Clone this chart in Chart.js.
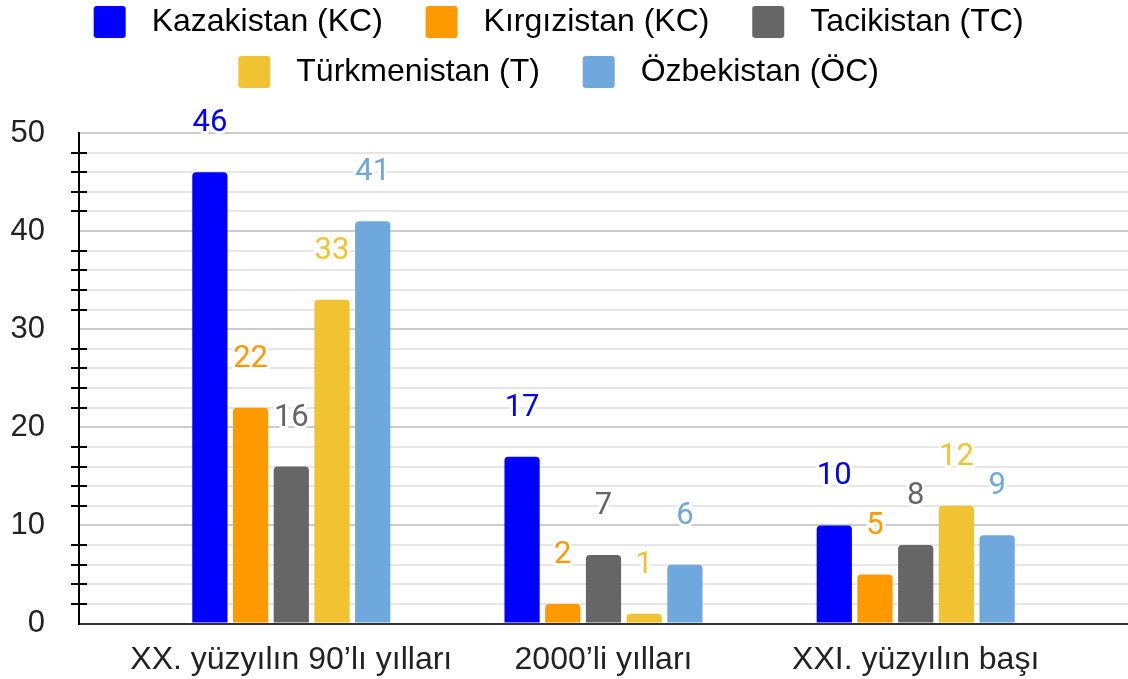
<!DOCTYPE html>
<html>
<head>
<meta charset="utf-8">
<script src="https://cdn.jsdelivr.net/npm/chart.js@4.4.1/dist/chart.umd.min.js"></script>
<style>
  body { margin: 0; background: #fff; }
</style>
</head>
<body>
<canvas id="chart" width="1128" height="679"></canvas>
<script>
// categories and series
var periods = ['XX. yüzyılın 90’lı yılları', '2000’li yılları', 'XXI. yüzyılın başı'];
var countries = ['Kazakistan (KC)', 'Kırgızistan (KC)', 'Tacikistan (TC)', 'Türkmenistan (T)', 'Özbekistan (ÖC)'];
var colors = ['#0000ff', '#ff9900', '#666666', '#f1c232', '#6fa8dc'];

var kazakistan = [46, 17, 10];
var kirgizistan = [22, 2, 5];
var tacikistan = [16, 7, 8];
var turkmenistan = [33, 1, 12];
var ozbekistan = [41, 6, 9];

var yLabels = [0, 10, 20, 30, 40, 50];

var series = [kazakistan, kirgizistan, tacikistan, turkmenistan, ozbekistan];

Chart.defaults.font.family = '"Liberation Sans", Arial, sans-serif';
Chart.defaults.color = '#222';

// legend swatch: square with a bit of room on the left
function swatch(color) {
    var c = document.createElement('canvas');
    c.width = 49;
    c.height = 32;
    var g = c.getContext('2d');
    g.fillStyle = color;
    g.beginPath();
    g.roundRect(7, 0, 32, 32, 3);
    g.fill();
    return c;
}

// numbers above the bars
var valueLabels = {
    id: 'valueLabels',
    afterDatasetsDraw: function(chart) {
        var ctx = chart.ctx;
        ctx.save();
        ctx.font = '31px Roboto';
        ctx.textAlign = 'center';
        ctx.textBaseline = 'alphabetic';
        ctx.lineJoin = 'round';
        ctx.lineWidth = 6;
        ctx.strokeStyle = '#fff';
        chart.data.datasets.forEach(function(ds, i) {
            chart.getDatasetMeta(i).data.forEach(function(bar, j) {
                var text = String(ds.data[j].y);
                ctx.strokeText(text, bar.x, bar.y - 41);
                ctx.fillStyle = ds.backgroundColor;
                ctx.fillText(text, bar.x, bar.y - 41);
            });
        });
        ctx.restore();
    }
};

// small tick marks crossing the y axis between the labelled values
var minorTicks = {
    id: 'minorTicks',
    afterDraw: function(chart) {
        var y = chart.scales.y;
        var ctx = chart.ctx;
        var x0 = chart.chartArea.left;
        ctx.save();
        ctx.strokeStyle = '#000';
        ctx.lineWidth = 2;
        y.ticks.forEach(function(t) {
            if (t.value % 10 === 0) return;
            var py = Math.round(y.getPixelForValue(t.value));
            ctx.beginPath();
            ctx.moveTo(x0 - 8, py);
            ctx.lineTo(x0 + 8, py);
            ctx.stroke();
        });
        ctx.restore();
    }
};

// extra space under the legend
var legendSpace = {
    id: 'legendSpace',
    beforeInit: function(chart) {
        var fit = chart.legend.fit;
        chart.legend.fit = function() {
            fit.call(this);
            this.height += 35;
        };
    }
};

var datasets = series.map(function(vals, i) {
    return {
        label: countries[i],
        data: vals.map(function(v, j) { return {x: j, y: v}; }),
        backgroundColor: colors[i],
        borderRadius: 4,
        categoryPercentage: 0.652,
        barPercentage: 0.865
    };
});

new Chart(document.getElementById('chart'), {
    type: 'bar',
    data: { datasets: datasets },
    options: {
        responsive: false,
        animation: false,
        layout: { padding: { top: -12, bottom: -17, left: 0, right: 0 } },
        plugins: {
            tooltip: { enabled: false },
            legend: {
                position: 'top',
                labels: {
                    usePointStyle: true,
                    pointStyleWidth: 49,
                    boxHeight: 32,
                    padding: 18,
                    color: '#222',
                    font: { size: 32 },
                    generateLabels: function(chart) {
                        return chart.data.datasets.map(function(ds, i) {
                            return {
                                text: ds.label + '  ',
                                fillStyle: ds.backgroundColor,
                                strokeStyle: ds.backgroundColor,
                                lineWidth: 0,
                                pointStyle: swatch(ds.backgroundColor),
                                hidden: false,
                                datasetIndex: i
                            };
                        });
                    }
                }
            }
        },
        scales: {
            x: {
                type: 'linear',
                min: -0.68,
                max: 2.68,
                offset: false,
                grid: { display: false, drawTicks: false },
                border: { display: true, color: '#333', width: 2 },
                afterBuildTicks: function(scale) {
                    scale.ticks = periods.map(function(p, i) { return {value: i}; });
                },
                ticks: {
                    autoSkip: false,
                    maxRotation: 0,
                    padding: 17,
                    color: '#222',
                    font: { size: 32 },
                    callback: function(v) { return periods[v]; }
                }
            },
            y: {
                min: 0,
                max: 50,
                afterFit: function(scale) { scale.width = 79; },
                grid: {
                    drawTicks: false,
                    lineWidth: 2,
                    color: function(c) {
                        return c.tick && c.tick.value % 10 === 0 ? '#cccccc' : '#e6e6e6';
                    }
                },
                border: { color: '#000', width: 2 },
                ticks: {
                    stepSize: 2,
                    maxTicksLimit: 30,
                    autoSkip: false,
                    padding: 34,
                    color: '#222',
                    font: { size: 31 },
                    callback: function(v) { return yLabels.indexOf(v) >= 0 ? String(v) : ''; }
                }
            }
        }
    },
    plugins: [valueLabels, minorTicks, legendSpace]
});
</script>
</body>
</html>
